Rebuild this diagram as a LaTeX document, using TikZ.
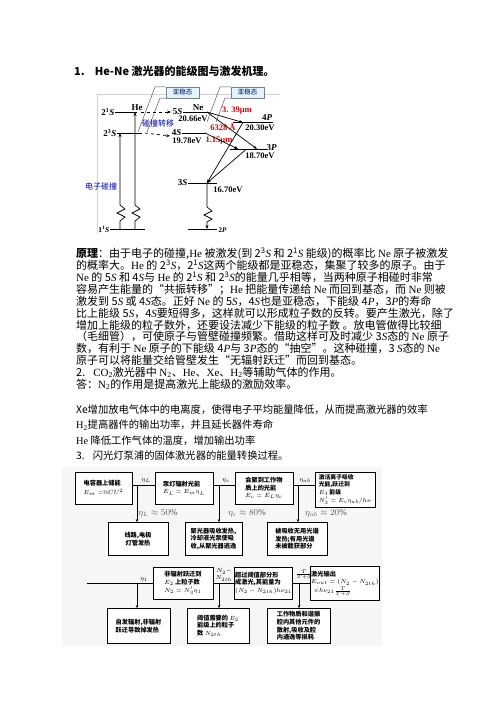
\documentclass[tikz,border=0pt]{standalone}
\usepackage{fontspec}
\setmainfont{Liberation Serif}
\newfontfamily\cjk{Noto Sans CJK SC}
\newfontfamily\lser{Liberation Serif}
\usetikzlibrary{arrows.meta}
\newcommand\E[1]{{\lser #1}}
\newcommand\iS{{\lser\itshape S}}
\newcommand\iP{{\lser\itshape P}}
\tikzset{
 para/.style={anchor=base west, inner sep=0pt, font=\cjk\fontsize{11}{13}\selectfont},
 lvl/.style={line width=0.9pt},
 lvllab/.style={font=\lser\bfseries\fontsize{9}{10}\selectfont, inner sep=0.5pt},
 ev/.style={font=\lser\bfseries\fontsize{8.5}{9}\selectfont, inner sep=0.5pt},
 redlab/.style={ev, text=red!85!black},
 bluelab/.style={font=\cjk\fontsize{8}{9}\selectfont, text=blue!70!black, inner sep=0.5pt},
 metabox/.style={draw=gray, fill=cyan!12, minimum width=33pt, minimum height=11pt, inner sep=0pt, font=\cjk\fontsize{6.5}{7}\selectfont, text=blue!40!black},
 arr/.style={-{Stealth[length=4pt,width=3pt]}, line width=0.7pt},
 fcbox/.style={draw, line width=0.8pt, fill=white, inner sep=1pt, align=left, font=\cjk\bfseries\fontsize{6.2}{7.6}\selectfont},
 etalab/.style={font=\fontsize{9}{10}\selectfont, text=gray!70!black, inner sep=0pt},
 smalllab/.style={font=\fontsize{6.5}{7}\selectfont, inner sep=0pt, align=center},
 farr/.style={-{Stealth[length=3pt,width=2.5pt]}, line width=0.7pt},
 call/.style={draw=gray!70!black, line width=0.5pt},
}
\begin{document}
\begin{tikzpicture}[x=1pt,y=-1pt]
\useasboundingbox (0,0) rectangle (496,702);
\fill[white] (0,0) rectangle (496,702);

% heading
\node[anchor=west, inner sep=0pt, font=\cjk\bfseries\fontsize{11}{13}\selectfont] (h1) at (74,71) {1.\hspace{10pt}He-Ne 激光器的能级图与激发机理。};

% ---------- energy level diagram ----------
\draw[gray!35] (97,234) -- (97,94) -- (280,94);
\node[metabox] (m1) at (182.5,92.5) {亚稳态};
\node[metabox] (m2) at (247.5,92.5) {亚稳态};
\draw[call] (m1.north west) -- (155,87) -- (138,132);
\draw[call] (m1.south west) -- (160,98) -- (147,132);
\draw[call] (m2.north west) -- (220,87) -- (207,122);
\draw[call] (m2.south west) -- (225,98) -- (216,122);

% levels
\coordinate (he1a) at (115,112); \coordinate (he1b) at (137,112);
\coordinate (he3a) at (117,133); \coordinate (he3b) at (142,133);
\coordinate (s5a) at (183,112); \coordinate (s5b) at (207,112);
\coordinate (s4a) at (182,133); \coordinate (s4b) at (205,133);
\coordinate (p4a) at (233,122.5); \coordinate (p4b) at (273,122.5);
\coordinate (p3a) at (230,149); \coordinate (p3b) at (267,149);
\coordinate (s3a) at (188,183); \coordinate (s3b) at (217,183);
\coordinate (p2a) at (188,229); \coordinate (p2b) at (217,229);
\coordinate (g1a) at (110,229); \coordinate (g1b) at (145,229);
\foreach \a/\b in {he1a/he1b,he3a/he3b,s5a/s5b,s4a/s4b,p4a/p4b,p3a/p3b,s3a/s3b,p2a/p2b,g1a/g1b}
  \draw[lvl] (\a) -- (\b);

\node[lvllab, anchor=east] (l21S) at (he1a) {2\textsuperscript{1}\textit{S}};
\node[lvllab, anchor=east] (l23S) at (he3a) {2\textsuperscript{3}\textit{S}};
\node[lvllab, anchor=south] (lHe) at (137,111) {He};
\node[lvllab, anchor=south] (lNe) at (198,111) {Ne};
\node[lvllab, anchor=east] (l5S) at (s5a) {5\textit{S}};
\node[lvllab, anchor=south east] (l4S) at ([yshift=-3pt]s4a) {4\textit{S}};
\node[lvllab, anchor=south east] (l4P) at (273,121.5) {4\textit{P}};
\node[lvllab, anchor=west] (l3P) at (266,147.5) {3\textit{P}};
\node[lvllab, anchor=east] (l3S) at (s3a) {3\textit{S}};
\node[lvllab, anchor=west, font=\lser\bfseries\fontsize{7}{8}\selectfont] (l2P) at (218,230) {2\textit{P}};
\node[lvllab, anchor=east, font=\lser\bfseries\fontsize{7.5}{8}\selectfont] (l11S) at (g1a) {1\textsuperscript{1}\textit{S}};

\node[ev] (e5S) at (193,118.5) {20.66eV};
\node[ev] (e4S) at (187,141) {19.78eV};
\node[ev] (e4P) at (260,128) {20.30eV};
\node[ev] (e3P) at (260,155.5) {18.70eV};
\node[ev] (e3S) at (228,190) {16.70eV};
\node[redlab] (r339) at (237,110.5) {3. 39μm};
\node[redlab] (r6328) at (223,127) {6328 Å};
\node[redlab] (r115) at (219,141) {1.15μm};
\node[bluelab] (bz) at (158,123) {碰撞转移};
\node[bluelab] (dz) at (101,186) {电子碰撞};

% transfer arrows
\draw[arr, dashed] ([xshift=4pt]he1b) -- ([xshift=-1pt]l5S.west);
\draw[arr, dashed] ([xshift=3pt]he3b) -- ([xshift=-1pt]l4S.south west);
% laser transitions
\coordinate (p4m) at (243,122.5);
\coordinate (p3m) at (257,149);
\coordinate (p3n) at (238,149);
\coordinate (p3k) at (246,149.5);
\coordinate (s3m) at (207,183);
\draw[arr] (s5b) -- (p4m);
\draw[arr] (s5b) -- (p3m);
\draw[arr] (s4b) -- (p3n);
\draw[arr] (p4m) -- (s3m);
\draw[arr] (p3k) -- (s3m);
% pumping with zigzags
\coordinate (v1b) at (120,229); \coordinate (v1t) at (120,133);
\coordinate (v2b) at (135,229); \coordinate (v2t) at (135,112);
\coordinate (v3t) at (207,183); \coordinate (v3b) at (207,229);
\draw[arr] (v1b) -- (120,221) -- (125,217) -- (117,213) -- (125,209) -- (120,205) -- (v1t);
\draw[arr] (v2b) -- (135,221) -- (140,217) -- (132,213) -- (140,209) -- (135,205) -- (v2t);
\draw[arr] (v3t) -- (207,207) -- (212,211) -- (204,215) -- (212,219) -- (207,222) -- (v3b);

% ---------- text ----------
\node[para] (t1) at (76,257) {\textbf{原理}：由于电子的碰撞,\E{He} 被激发(到 2\textsuperscript{3}\iS{} 和 2\textsuperscript{1}\iS{} 能级)的概率比 \E{Ne} 原子被激发};
\node[para] (t2) at (76,269) {的概率大。\E{He} 的 2\textsuperscript{3}\iS，2\textsuperscript{1}\iS 这两个能级都是亚稳态，集聚了较多的原子。由于};
\node[para] (t3) at (76,281) {\E{Ne} 的 5\iS{} 和 4\iS 与 \E{He} 的 2\textsuperscript{1}\iS{} 和 2\textsuperscript{3}\iS 的能量几乎相等，当两种原子相碰时非常};
\node[para] (t4) at (76,293) {容易产生能量的“共振转移”；\E{He} 把能量传递给 \E{Ne} 而回到基态，而 \E{Ne} 则被};
\node[para] (t5) at (76,305) {激发到 5\iS{} 或 4\iS 态。正好 \E{Ne} 的 5\iS，4\iS 也是亚稳态，下能级 4\iP，3\iP 的寿命};
\node[para] (t6) at (76,317) {比上能级 5\iS，4\iS 要短得多，这样就可以形成粒子数的反转。要产生激光，除了};
\node[para] (t7) at (76,329) {增加上能级的粒子数外，还要设法减少下能级的粒子数 。放电管做得比较细};
\node[para] (t8) at (76,340.8) {（毛细管），可使原子与管壁碰撞频繁。借助这样可及时减少 3\iS 态的 \E{Ne} 原子};
\node[para] (t9) at (76,352.6) {数，有利于 \E{Ne} 原子的下能级 4\iP 与 3\iP 态的“抽空”。这种碰撞，3 \iS 态的 \E{Ne}};
\node[para] (t10) at (76,364.4) {原子可以将能量交给管壁发生“无辐射跃迁”而回到基态。};
\node[para] (t11) at (76,376.2) {2.\hspace{8pt}\E{CO\textsubscript{2}}激光器中 \E{N\textsubscript{2}}、\E{He}、\E{Xe}、\E{H\textsubscript{2}}等辅助气体的作用。};
\node[para] (t12) at (76,388) {答：\E{N\textsubscript{2}}的作用是提高激光上能级的激励效率。};
\node[para, font=\cjk\fontsize{10.3}{12}\selectfont] (t13) at (76,413) {Xe增加放电气体中的电离度，使得电子平均能量降低，从而提高激光器的效率};
\node[para, font=\cjk\fontsize{10.3}{12}\selectfont] (t14) at (76,428.5) {\E{H\textsubscript{2}}提高器件的输出功率，并且延长器件寿命};
\node[para, font=\cjk\fontsize{10.3}{12}\selectfont] (t15) at (76,444) {\E{He} 降低工作气体的温度，增加输出功率};
\node[para, font=\cjk\fontsize{10.3}{12}\selectfont] (t16) at (76,459.5) {3.\hspace{8pt}闪光灯泵浦的固体激光器的能量转换过程。};

% ---------- flow chart ----------
\fill[gray!7] (62,467) rectangle (382,646);
\node[fcbox, minimum width=57pt, minimum height=32pt, font=\cjk\bfseries\fontsize{6.2}{9}\selectfont] (B1) at (103.5,488) {电容器上储能\\$E_m=${\lser\mdseries ½}$CU^2$};
\node[fcbox, minimum width=58pt, minimum height=32pt] (B2) at (184,488) {泵灯辐射光能\\$E_L=E_m\eta_L$};
\node[fcbox, minimum width=58pt, minimum height=32pt] (B3) at (264,488) {会聚到工作物\\质上的光能\\$E_c=E_L\eta_c$};
\node[fcbox, minimum width=60pt, minimum height=35pt, font=\cjk\bfseries\fontsize{5.8}{7.4}\selectfont] (B4) at (345,489.5) {激活离子吸收\\光能,跃迁到\\$E_3$ 能级\\[1pt]$N'_3=E_c\eta_{ab}/h\nu$};

\node[fcbox, minimum width=60pt, minimum height=33pt, align=center] (C1) at (138,539) {线路,电极\\灯管发热};
\node[fcbox, minimum width=57pt, minimum height=33pt] (C2) at (213.5,539) {聚光器吸收发热,\\冷却液光泵使吸\\收,从聚光器逃逸};
\node[fcbox, minimum width=60pt, minimum height=33pt] (C3) at (297,539) {被吸收无用光谱\\发热;有用光谱\\未被截获部分};

\node[fcbox, minimum width=60pt, minimum height=32pt] (D1) at (183,583) {非辐射跃迁到\\$E_2$ 上粒子数\\$N_2=N'_3\eta_1$};
\node[fcbox, minimum width=57pt, minimum height=32pt] (D2) at (263.5,583) {超过阈值部分形\\成激光,其能量为\\$(N_2-N_{2th})h\nu_{21}$};
\node[fcbox, minimum width=60pt, minimum height=34pt] (D3) at (345,583.5) {激光输出\\$E_{out}=(N_2-N_{2th})$\\[1pt]$\;\times h\nu_{21}\frac{T}{T+\beta}$};

\node[fcbox, minimum width=63pt, minimum height=35pt] (E1) at (138.5,626) {自发辐射,非辐射\\跃迁导致掉发热};
\node[fcbox, minimum width=62pt, minimum height=35pt] (E2) at (218,626) {阈值需要的 $E_2$\\能级上的粒子\\数 $N_{2th}$};
\node[fcbox, minimum width=63pt, minimum height=35pt] (E3) at (298.5,626) {工作物质和谐振\\腔内其他元件的\\散射,吸收及腔\\内通逸等损耗};

% connectors row 1
\coordinate (j1) at (137,485.5);
\coordinate (j2) at (219,485.5);
\coordinate (j3) at (298,485.5);
\draw[line width=0.7pt] (B1.east |- j1) -- (B2.west |- j1);
\draw[line width=0.7pt] (B2.east |- j2) -- (B3.west |- j2);
\draw[line width=0.7pt] (B3.east |- j3) -- (B4.west |- j3);
\draw[farr] (j1) -- (j1 |- C1.north);
\draw[farr] (j2) -- (j2 |- C2.north);
\draw[farr] (j3) -- (j3 |- C3.north);
\node[smalllab] (nL) at (146,480.5) {$\eta_L$};
\node[smalllab] (nc) at (226,480.5) {$\eta_c$};
\node[smalllab] (nab) at (305,480.5) {$\eta_{ab}$};
\node[etalab] (pL) at (158,513) {$\eta_L\approx 50\%$};
\node[etalab] (pc) at (247,513) {$\eta_c\approx 80\%$};
\node[etalab] (pab) at (326,513) {$\eta_{ab}\approx 20\%$};

% connectors row 3
\coordinate (st) at (87,583.5);
\coordinate (j4) at (137,583.5);
\coordinate (j5) at (219,583.5);
\coordinate (j6) at (299,583.5);
\draw[line width=0.7pt] (st) -- (D1.west |- st);
\draw[line width=0.7pt] (D1.east |- j5) -- (D2.west |- j5);
\draw[line width=0.7pt] (D2.east |- j6) -- (D3.west |- j6);
\draw[farr] (j4) -- (j4 |- E1.north);
\draw[farr] (j5) -- (j5 |- E2.north);
\draw[farr] (j6) -- (j6 |- E3.north);
\node[smalllab] (n1) at (144,579.5) {$\eta_1$};
\node[smalllab] (nN) at (224,575) {$N_2-$\\$N_{2th}$};
\node[smalllab] (nT) at (304,574.5) {$\frac{T}{T+\beta}$};
\end{tikzpicture}
\end{document}
